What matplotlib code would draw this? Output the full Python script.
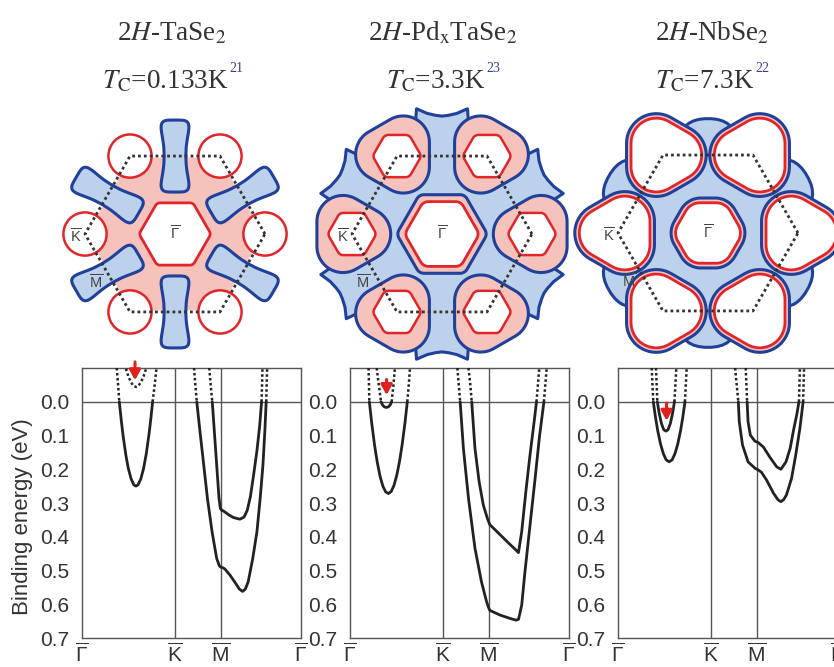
import numpy as np
import matplotlib
matplotlib.use("Agg")
import matplotlib.pyplot as plt
from matplotlib.patches import Polygon, Circle

plt.rcParams['font.family'] = ['Liberation Sans', 'DejaVu Sans']
plt.rcParams['mathtext.fontset'] = 'custom'
plt.rcParams['mathtext.rm'] = 'Liberation Sans'
plt.rcParams['mathtext.it'] = 'Liberation Sans:italic'
plt.rcParams['mathtext.bf'] = 'Liberation Sans:bold'

W, H = 834, 667

# ---------------- titles ----------------
MATERIALS = ['2$H$-TaSe$_2$', '2$H$-Pd$_\\mathrm{x}$TaSe$_2$', '2$H$-NbSe$_2$']
TC_TEXT = ['$T_\\mathrm{C}$=0.133K', '$T_\\mathrm{C}$=3.3K', '$T_\\mathrm{C}$=7.3K']
TC_REFS = ['21', '23', '22']

# ---------------- band plots ----------------
K_TICKS = [0.0, 2.0, 3.0, 4.732]
K_LABELS = [r'$\overline{\Gamma}$', r'$\overline{\mathrm{K}}$',
            r'$\overline{\mathrm{M}}$', r'$\overline{\Gamma}$']
E_TICKS = [0.0, 0.1, 0.2, 0.3, 0.4, 0.5, 0.6, 0.7]

# 2H-TaSe2
TA_G1_K = [0.75, 0.78, 0.806, 0.85, 0.89, 0.95, 1.00, 1.06, 1.12, 1.166, 1.21, 1.27, 1.33, 1.39, 1.45, 1.49, 1.526, 1.57, 1.61]
TA_G1_E = [-0.10, -0.05, 0.0, 0.057, 0.103, 0.160, 0.197, 0.228, 0.246, 0.250, 0.246, 0.229, 0.198, 0.153, 0.094, 0.047, 0.0, -0.05, -0.10]
TA_G2_K = [0.95, 1.00, 1.06, 1.12, 1.166, 1.21, 1.27, 1.33, 1.39]
TA_G2_E = [-0.098, -0.076, -0.057, -0.046, -0.044, -0.046, -0.057, -0.075, -0.10]
TA_M1_K = [2.42, 2.45, 2.48, 2.55, 2.63, 2.71, 2.81, 2.91, 2.97, 3.00, 3.05, 3.09, 3.20, 3.30, 3.40, 3.47, 3.53, 3.59, 3.69, 3.78, 3.85, 3.91, 3.95, 3.98, 3.99, 4.00]
TA_M1_E = [-0.10, -0.05, 0.0, 0.089, 0.187, 0.286, 0.385, 0.464, 0.487, 0.490, 0.492, 0.496, 0.514, 0.534, 0.555, 0.562, 0.555, 0.534, 0.464, 0.385, 0.286, 0.187, 0.089, 0.0, -0.05, -0.10]
TA_M2_K = [2.75, 2.78, 2.815, 2.86, 2.91, 2.96, 2.99, 3.02, 3.05, 3.16, 3.27, 3.41, 3.50, 3.57, 3.64, 3.71, 3.78, 3.84, 3.88, 3.89, 3.90]
TA_M2_E = [-0.10, -0.05, 0.0, 0.089, 0.187, 0.286, 0.316, 0.322, 0.323, 0.334, 0.343, 0.348, 0.342, 0.322, 0.280, 0.215, 0.145, 0.070, 0.0, -0.05, -0.10]

# 2H-PdxTaSe2
PD_G1_K = [0.40, 0.41, 0.418, 0.47, 0.53, 0.59, 0.65, 0.71, 0.77, 0.828, 0.89, 0.95, 1.01, 1.07, 1.13, 1.19, 1.238, 1.27, 1.296]
PD_G1_E = [-0.10, -0.05, 0.0, 0.064, 0.128, 0.180, 0.221, 0.250, 0.267, 0.272, 0.266, 0.248, 0.218, 0.177, 0.124, 0.060, 0.0, -0.05, -0.10]
PD_G2_K = [0.577, 0.62, 0.67, 0.70, 0.74, 0.785, 0.83, 0.87, 0.90, 0.94, 0.97]
PD_G2_E = [-0.10, -0.052, 0.0, 0.009, 0.015, 0.017, 0.015, 0.009, 0.0, -0.052, -0.10]
PD_M1_K = [2.32, 2.35, 2.38, 2.45, 2.56, 2.70, 2.84, 2.95, 3.00, 3.02, 3.24, 3.46, 3.58, 3.64, 3.71, 3.78, 3.89, 4.00, 4.09, 4.19, 4.22, 4.25]
PD_M1_E = [-0.10, -0.05, 0.0, 0.138, 0.286, 0.434, 0.533, 0.592, 0.612, 0.618, 0.632, 0.642, 0.647, 0.645, 0.603, 0.504, 0.365, 0.227, 0.108, 0.0, -0.05, -0.10]
PD_M2_K = [2.56, 2.60, 2.63, 2.70, 2.79, 2.88, 2.97, 3.02, 3.17, 3.31, 3.46, 3.56, 3.64, 3.71, 3.80, 3.89, 3.97, 4.03, 4.06, 4.09]
PD_M2_E = [-0.10, -0.05, 0.0, 0.138, 0.237, 0.306, 0.346, 0.364, 0.384, 0.403, 0.423, 0.436, 0.447, 0.385, 0.266, 0.157, 0.069, 0.0, -0.05, -0.10]

# 2H-NbSe2
NB_G1_K = [0.728, 0.745, 0.763, 0.81, 0.86, 0.92, 0.98, 1.04, 1.105, 1.17, 1.23, 1.29, 1.35, 1.40, 1.447, 1.465, 1.484]
NB_G1_E = [-0.10, -0.05, 0.0, 0.046, 0.087, 0.126, 0.154, 0.172, 0.178, 0.172, 0.154, 0.126, 0.087, 0.046, 0.0, -0.05, -0.10]
NB_G2_K = [0.82, 0.835, 0.85, 0.89, 0.94, 0.99, 1.035, 1.08, 1.13, 1.18, 1.22, 1.24, 1.26]
NB_G2_E = [-0.10, -0.05, 0.0, 0.034, 0.065, 0.083, 0.087, 0.083, 0.065, 0.034, 0.0, -0.05, -0.10]
NB_M1_K = [2.53, 2.565, 2.60, 2.62, 2.69, 2.81, 2.96, 3.03, 3.10, 3.21, 3.36, 3.46, 3.52, 3.58, 3.64, 3.75, 3.84, 3.93, 4.00, 4.01, 4.02]
NB_M1_E = [-0.10, -0.05, 0.0, 0.059, 0.128, 0.178, 0.197, 0.202, 0.209, 0.232, 0.271, 0.291, 0.296, 0.290, 0.276, 0.227, 0.158, 0.079, 0.0, -0.05, -0.10]
NB_M2_K = [2.76, 2.775, 2.79, 2.81, 2.86, 2.96, 3.03, 3.14, 3.28, 3.43, 3.52, 3.63, 3.72, 3.80, 3.86, 3.91, 3.92, 3.93]
NB_M2_E = [-0.10, -0.05, 0.0, 0.059, 0.099, 0.117, 0.121, 0.134, 0.164, 0.193, 0.200, 0.178, 0.138, 0.079, 0.040, 0.0, -0.05, -0.10]

# red arrows (k, start E, end E)
ARROW_K = [1.145, 0.79, 1.05]
ARROW_E0 = [-0.118, -0.066, 0.004]
ARROW_E1 = [-0.064, -0.020, 0.056]

# ---------------- Fermi surface schematic sizes (units of BZ radius) ----------------
FS_CENTER_PX = [(175, 234), (442, 234), (708, 233)]
BZ_R_PX = 90

TA_PINK_HEX = 0.98
TA_GAMMA_HEX = [0.33, 0.06]
TA_K_CIRCLE = 0.24
TA_M_BONE = [0.40, 0.20, 0.12]

PD_GAMMA_OUTER = [0.40, 0.09]
PD_GAMMA_INNER = [0.30, 0.10]
PD_K_DIST = 1.02
PD_K_OUTER = [0.16, 0.29]
PD_K_INNER = [0.19, 0.07]
PD_HORN_ANG = [-24, -17, -13, -11.5, -7, -3, 0, 3, 7, 11.5, 13, 17, 24]
PD_HORN_RAD = [0.80, 1.10, 1.30, 1.42, 1.35, 1.32, 1.31, 1.32, 1.35, 1.42, 1.30, 1.10, 0.80]

NB_GAMMA_OUTER = [0.16, 0.25]
NB_GAMMA_INNER = [0.18, 0.18]
NB_K_OUTER = [0.15, 0.33]
NB_K_INNER = [0.15, 0.28]
NB_LOBE_U = [0.75, 1.27, 1.27, 0.75]
NB_LOBE_V = [-0.34, -0.30, 0.30, 0.34]

PINK = '#f6c2bc'
BLUE = '#bcd2ec'
DBLUE = '#21409a'
RED = '#e0262a'
DOTS = '#333333'
GREY = '#555555'
TXT = '#333333'


def rounded_polygon(n, t, c, rot, cx=0.0, cy=0.0, m=20):
    pts = []
    for i in range(n):
        a = rot + 2 * np.pi * i / n
        vx, vy = cx + t * np.cos(a), cy + t * np.sin(a)
        ang = np.linspace(a - np.pi / n, a + np.pi / n, m)
        pts.append(np.column_stack([vx + c * np.cos(ang), vy + c * np.sin(ang)]))
    return np.vstack(pts)


def chaikin(pts, n=3):
    pts = np.asarray(pts, float)
    for _ in range(n):
        q = np.roll(pts, -1, axis=0)
        new = np.empty((2 * len(pts), 2))
        new[0::2] = 0.75 * pts + 0.25 * q
        new[1::2] = 0.25 * pts + 0.75 * q
        pts = new
    return pts


def rotate(pts, ang):
    c, s = np.cos(ang), np.sin(ang)
    pts = np.asarray(pts)
    return np.column_stack([pts[:, 0] * c - pts[:, 1] * s, pts[:, 0] * s + pts[:, 1] * c])


def dogbone(a, w, n, ang, m=160):
    t = np.linspace(0, 2 * np.pi, m, endpoint=False)
    u = a * np.sign(np.cos(t)) * np.abs(np.cos(t)) ** 0.45
    v = np.sign(np.sin(t)) * np.abs(np.sin(t)) ** 0.45 * (n + (w - n) * (u / a) ** 2)
    return rotate(np.column_stack([u, v]), ang)


def add(ax, pts, fc, ec='none', lw=0, z=1):
    ax.add_patch(Polygon(pts, closed=True, fc=fc, ec=ec, lw=lw, zorder=z, joinstyle='round'))


def bz_and_labels(ax):
    a = np.radians(np.arange(0, 420, 60))
    ax.plot(np.cos(a), np.sin(a), color=DOTS, lw=2.0, ls=(0, (1, 1.1)), zorder=20)
    kw = dict(ha='center', va='center', fontsize=10.5, color='#444444', zorder=21)
    ax.text(0, 0, r'$\overline{\Gamma}$', **kw)
    ax.text(-1.1, -0.03, r'$\overline{\mathrm{K}}$', **kw)
    ax.text(-0.88, -0.54, r'$\overline{\mathrm{M}}$', **kw)


K_ANGLES = np.radians(np.arange(0, 360, 60))
M_ANGLES = np.radians(np.arange(30, 390, 60))

fig = plt.figure(figsize=(W / 100, H / 100), dpi=100)

# ---------------- Fermi surfaces ----------------
fs_axes = []
for cx, cy in FS_CENTER_PX:
    half = 1.5 * BZ_R_PX
    fax = fig.add_axes([(cx - half) / W, 1 - (cy + half) / H, 2 * half / W, 2 * half / H])
    fax.set_xlim(-1.5, 1.5)
    fax.set_ylim(-1.5, 1.5)
    fax.set_aspect('equal')
    fax.axis('off')
    fax.patch.set_alpha(0)
    fs_axes.append(fax)

# 2H-TaSe2
ax = fs_axes[0]
add(ax, rounded_polygon(6, TA_PINK_HEX, 0.0, 0.0, m=2), PINK, z=1)
for ang in M_ANGLES:
    bone = dogbone(*TA_M_BONE, ang) + 0.866 * np.array([np.cos(ang), np.sin(ang)])
    add(ax, bone, BLUE, DBLUE, 2.2, z=3)
for ang in K_ANGLES:
    ax.add_patch(Circle((np.cos(ang), np.sin(ang)), TA_K_CIRCLE, fc='white', ec=RED, lw=1.8, zorder=4))
add(ax, rounded_polygon(6, *TA_GAMMA_HEX, 0.0), 'white', RED, 2.0, z=4)
bz_and_labels(ax)

# 2H-PdxTaSe2
ax = fs_axes[1]
add(ax, rounded_polygon(6, 1.0, 0.0, 0.0, m=2), BLUE, z=2)
for ang in M_ANGLES:
    a = ang + np.radians(PD_HORN_ANG)
    r = np.array(PD_HORN_RAD)
    add(ax, np.column_stack([r * np.cos(a), r * np.sin(a)]), BLUE, DBLUE, 2.2, z=1)
for ang in K_ANGLES:
    kx, ky = PD_K_DIST * np.cos(ang), PD_K_DIST * np.sin(ang)
    add(ax, rounded_polygon(3, *PD_K_OUTER, ang + np.pi, kx, ky), PINK, DBLUE, 2.2, z=3)
    add(ax, rounded_polygon(6, *PD_K_INNER, 0.0, np.cos(ang), np.sin(ang)), 'white', RED, 1.8, z=4)
add(ax, rounded_polygon(6, *PD_GAMMA_OUTER, 0.0), PINK, DBLUE, 2.2, z=3)
add(ax, rounded_polygon(6, *PD_GAMMA_INNER, 0.0), 'white', RED, 2.0, z=4)
bz_and_labels(ax)

# 2H-NbSe2
ax = fs_axes[2]
lobe = chaikin(np.column_stack([NB_LOBE_U, NB_LOBE_V]), 3)
for ang in M_ANGLES:
    add(ax, rotate(lobe, ang), BLUE, DBLUE, 2.2, z=1)
add(ax, rounded_polygon(6, 1.0, 0.0, 0.0, m=2), BLUE, z=2)
for ang in K_ANGLES:
    kx, ky = np.cos(ang), np.sin(ang)
    add(ax, rounded_polygon(3, *NB_K_OUTER, ang, kx, ky), PINK, DBLUE, 2.2, z=3)
    add(ax, rounded_polygon(3, *NB_K_INNER, ang, kx, ky), 'white', RED, 2.0, z=4)
add(ax, rounded_polygon(6, *NB_GAMMA_OUTER, 0.0), PINK, DBLUE, 2.2, z=3)
add(ax, rounded_polygon(6, *NB_GAMMA_INNER, 0.0), 'white', RED, 2.0, z=4)
bz_and_labels(ax)

# ---------------- band dispersions ----------------
PANEL_LEFT_PX = [82, 350, 618]
PANEL_BANDS = [
    [(TA_G1_K, TA_G1_E), (TA_G2_K, TA_G2_E), (TA_M1_K, TA_M1_E), (TA_M2_K, TA_M2_E)],
    [(PD_G1_K, PD_G1_E), (PD_G2_K, PD_G2_E), (PD_M1_K, PD_M1_E), (PD_M2_K, PD_M2_E)],
    [(NB_G1_K, NB_G1_E), (NB_G2_K, NB_G2_E), (NB_M1_K, NB_M1_E), (NB_M2_K, NB_M2_E)],
]

for i, left in enumerate(PANEL_LEFT_PX):
    ax = fig.add_axes([left / W, 1 - 638 / H, 219 / W, 270 / H])
    ax.set_xlim(0, K_TICKS[-1])
    ax.set_ylim(0.7, -0.1)
    for x in K_TICKS[1:3]:
        ax.axvline(x, color=GREY, lw=1.0, zorder=1)
    ax.axhline(0, color=GREY, lw=1.0, zorder=1)
    for sp in ax.spines.values():
        sp.set_color(GREY)
        sp.set_linewidth(1.0)

    for k, e in PANEL_BANDS[i]:
        k = np.array(k)
        e = np.array(e)
        ax.plot(k, np.ma.masked_where(e < 0, e), color='#222222', lw=2.0, zorder=3,
                solid_capstyle='round')
        ax.plot(k, np.ma.masked_where(e > 0, e), color='#222222', lw=1.8,
                ls=(0, (1, 1)), zorder=3)

    ax.annotate('', xy=(ARROW_K[i], ARROW_E1[i]), xytext=(ARROW_K[i], ARROW_E0[i]),
                arrowprops=dict(arrowstyle='-|>,head_width=0.28,head_length=0.5',
                                color='#e0201b', lw=2.2, shrinkA=0, shrinkB=0,
                                mutation_scale=12),
                annotation_clip=False, zorder=5)

    ax.set_yticks(E_TICKS)
    ax.set_yticklabels(['%.1f' % v for v in E_TICKS])
    ax.set_xticks(K_TICKS)
    ax.set_xticklabels(K_LABELS)
    ax.tick_params(axis='y', length=0, pad=9, labelsize=15, labelcolor=TXT)
    ax.tick_params(axis='x', length=0, pad=3, labelsize=15, labelcolor=TXT)
    if i == 0:
        ax.set_ylabel('Binding energy (eV)', fontsize=16, color=TXT)
        ax.yaxis.set_label_coords(-0.225, 0.45)

# ---------------- titles ----------------
top = fig.add_axes([0, 0, 1, 1])
top.axis('off')
top.patch.set_alpha(0)
TITLE_X_PX = [172, 443, 712]
for i, xp in enumerate(TITLE_X_PX):
    fig.text(xp / W, 1 - 40 / H, MATERIALS[i], ha='center', va='baseline', fontsize=19.5,
             family='Liberation Serif', math_fontfamily='stix', color=TXT)
    t = fig.text((xp - 7) / W, 1 - 88 / H, TC_TEXT[i], ha='center', va='baseline', fontsize=19.5,
                 family='Liberation Serif', math_fontfamily='stix', color=TXT)
    top.annotate(TC_REFS[i], xy=(1, 1), xycoords=t, xytext=(0.5, -5),
                 textcoords='offset points', ha='left', va='bottom', fontsize=10,
                 family='Liberation Serif', color='#3c3f8c')

fig.savefig('out.png', dpi=100)
